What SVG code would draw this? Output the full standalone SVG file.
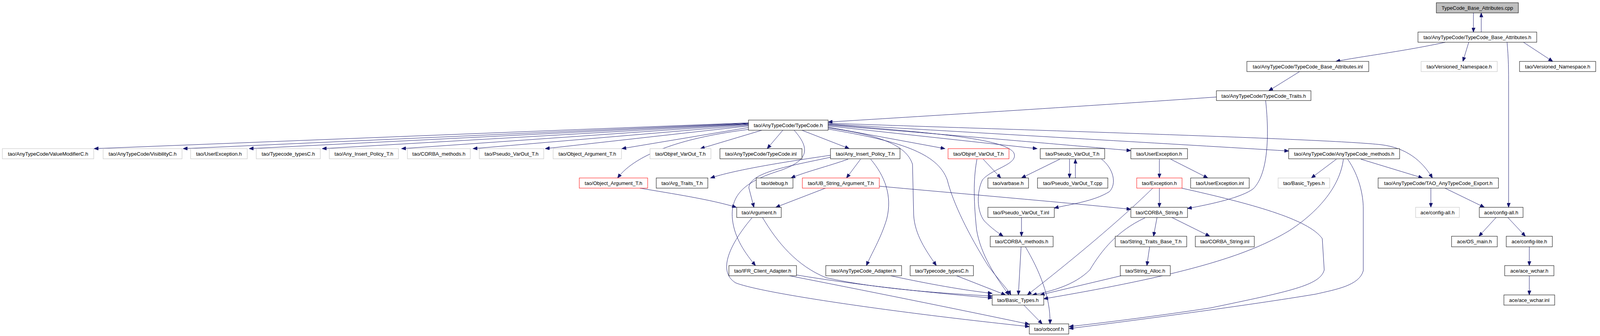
<svg xmlns="http://www.w3.org/2000/svg" width="4107" height="859" viewBox="0 0 4107 859">
<style>
.n rect{fill:#fff;stroke-width:1}
.b rect{stroke:#000}
.g rect{stroke:#bfbfbf}
.r rect{stroke:#ff0000}
.n text{font-family:"Liberation Sans",Arial,sans-serif;font-size:13px;text-anchor:middle;fill:#000}
#edges path{fill:none;stroke:#191970;stroke-width:1;marker-end:url(#ah)}
</style>
<defs>
<marker id="ah" markerUnits="userSpaceOnUse" markerWidth="12" markerHeight="9" refX="11" refY="4.5" orient="auto">
<path d="M0,0 L11,4.5 L0,9 z" fill="#191970" stroke="#191970" stroke-width="1"/>
</marker>
</defs>
<rect width="4107" height="859" fill="#fff"/>
<g id="edges">
<path d="M3772,33 L3772,82"/>
<path d="M3792,82 L3792,33"/>
<path d="M3700,108 C3600,130 3480,145 3420,157"/>
<path d="M3760,108 L3745,157"/>
<path d="M3900,108 L3975,157"/>
<path d="M3858,108 C3862,150 3862,180 3862,220 L3862,530"/>
<path d="M3327,183 L3248,232"/>
<path d="M3114,248 C2800,270 2400,295 2120,312"/>
<path d="M3240,257 C3248,330 3250,440 3209,482 C3180,505 3100,522 3040,533"/>
<path d="M1916,314 L241,380"/>
<path d="M1916,315 L469,380"/>
<path d="M1916,316 L638,380"/>
<path d="M1916,317 L825,380"/>
<path d="M1916,318 L1028,380"/>
<path d="M1916,320 L1211,380"/>
<path d="M1916,322 L1396,380"/>
<path d="M1916,326 L1592,380"/>
<path d="M1950,333 L1793,380"/>
<path d="M2004,333 L1964,380"/>
<path d="M1916,331 C1760,350 1630,390 1581,455"/>
<path d="M2053,333 L2174,380"/>
<path d="M2033,333 C2075,380 2070,410 2000,435 C1920,460 1868,490 1875,560 C1880,610 1910,650 1934,679"/>
<path d="M2120,322 L2655,380"/>
<path d="M2120,325 L2419,380"/>
<path d="M2120,327 C2250,345 2320,370 2336,420 L2339,550 C2342,600 2370,640 2397,679"/>
<path d="M2120,330 C2300,360 2400,390 2425,460 C2440,520 2480,600 2530,680 C2560,720 2580,740 2588,754"/>
<path d="M2120,318 C2400,340 2570,355 2595,390 C2610,420 2540,430 2515,460 C2500,490 2500,540 2520,565 C2540,585 2555,595 2568,604"/>
<path d="M2120,320 C2500,350 2800,377 2895,385"/>
<path d="M2120,317 C2600,345 3000,368 3299,386"/>
<path d="M2120,315 C2700,335 3400,355 3536,370 C3600,378 3640,410 3667,455"/>
<path d="M2126,397 C2000,415 1880,435 1819,455"/>
<path d="M2126,402 C2020,425 1920,440 1917,480 L1930,530"/>
<path d="M2171,407 C2120,425 2060,440 2025,455"/>
<path d="M2203,407 L2167,455"/>
<path d="M2229,407 C2265,450 2285,500 2270,560 C2255,610 2230,650 2218,679"/>
<path d="M1638,481 C1720,495 1820,510 1885,530"/>
<path d="M2113,481 L1986,530"/>
<path d="M2251,476 C2400,490 2700,515 2895,535"/>
<path d="M2517,407 L2562,455"/>
<path d="M2501,407 C2493,450 2491,500 2500,587 C2510,650 2550,710 2583,754"/>
<path d="M2713,407 L2615,455"/>
<path d="M2738,407 L2738,455"/>
<path d="M2753,455 L2753,407"/>
<path d="M2820,407 C2850,430 2860,470 2840,490 C2800,515 2740,522 2699,532"/>
<path d="M2615,556 L2615,604"/>
<path d="M2614,631 L2607,754"/>
<path d="M2625,631 C2660,690 2690,760 2688,828"/>
<path d="M2621,780 L2668,828"/>
<path d="M2968,407 L2968,455"/>
<path d="M2997,407 L3092,455"/>
<path d="M2968,481 L2968,530"/>
<path d="M2951,481 C2850,580 2700,700 2630,754"/>
<path d="M3025,481 C3200,520 3350,560 3385,610 L3390,690 C3380,730 3300,745 3100,787 C2950,810 2800,828 2737,835"/>
<path d="M2962,556 L2953,604"/>
<path d="M3000,556 L3097,604"/>
<path d="M2931,557 C2860,590 2820,640 2790,690 C2750,730 2690,745 2643,754"/>
<path d="M2943,631 L2936,679"/>
<path d="M2870,705 L2663,754"/>
<path d="M3421,407 L3357,455"/>
<path d="M3484,407 L3642,455"/>
<path d="M3439,407 C3430,480 3370,545 3300,590 C3200,650 3050,700 2672,764"/>
<path d="M3450,407 C3480,450 3490,500 3490,533 L3490,692 C3480,730 3420,740 3368,752 C3200,780 2900,820 2737,840"/>
<path d="M3663,481 L3663,530"/>
<path d="M3699,481 L3800,530"/>
<path d="M3830,556 L3786,604"/>
<path d="M3860,556 L3905,604"/>
<path d="M3915,630 L3915,679"/>
<path d="M3915,705 L3915,754"/>
<path d="M1952,556 C1990,620 2040,680 2115,710 C2250,740 2420,750 2540,757"/>
<path d="M1925,557 C1880,610 1830,690 1883,723 C1950,750 2300,800 2635,835"/>
<path d="M2039,703 C2200,730 2400,750 2540,762"/>
<path d="M2021,705 C2200,740 2450,790 2635,829"/>
<path d="M2280,705 C2350,720 2450,740 2540,750"/>
<path d="M2449,705 L2574,754"/>
</g>
<g id="n_cpp" class="n b"><rect x="3677" y="7" width="210" height="26" style="fill:#bfbfbf"/><text x="3782" y="25">TypeCode_Base_Attributes.cpp</text></g>
<g id="n_tcba_h" class="n b"><rect x="3630" y="82" width="304" height="26"/><text x="3782" y="100">tao/AnyTypeCode/TypeCode_Base_Attributes.h</text></g>
<g id="n_tcba_inl" class="n b"><rect x="3192" y="157" width="312" height="26"/><text x="3348" y="175">tao/AnyTypeCode/TypeCode_Base_Attributes.inl</text></g>
<g id="n_vns_g" class="n g"><rect x="3638" y="157" width="195" height="26"/><text x="3735.5" y="175">tao/Versioned_Namespace.h</text></g>
<g id="n_vns_b" class="n b"><rect x="3890" y="157" width="195" height="26"/><text x="3987.5" y="175">tao/Versioned_Namespace.h</text></g>
<g id="n_traits" class="n b"><rect x="3114" y="232" width="242" height="25"/><text x="3235" y="250">tao/AnyTypeCode/TypeCode_Traits.h</text></g>
<g id="n_typecode_h" class="n b"><rect x="1916" y="307" width="204" height="26"/><text x="2018" y="325">tao/AnyTypeCode/TypeCode.h</text></g>
<g id="n_vm" class="n g"><rect x="6" y="380" width="234" height="26"/><text x="123" y="398">tao/AnyTypeCode/ValueModifierC.h</text></g>
<g id="n_vis" class="n g"><rect x="264" y="380" width="202" height="26"/><text x="365" y="398">tao/AnyTypeCode/VisibilityC.h</text></g>
<g id="n_ue_g" class="n g"><rect x="488" y="380" width="145" height="26"/><text x="560.5" y="398">tao/UserException.h</text></g>
<g id="n_tct_g" class="n g"><rect x="656" y="380" width="164" height="26"/><text x="738" y="398">tao/Typecode_typesC.h</text></g>
<g id="n_aip_g" class="n g"><rect x="843" y="380" width="177" height="26"/><text x="931.5" y="398">tao/Any_Insert_Policy_T.h</text></g>
<g id="n_cm_g" class="n g"><rect x="1043" y="380" width="161" height="26"/><text x="1123.5" y="398">tao/CORBA_methods.h</text></g>
<g id="n_pvo_g" class="n g"><rect x="1227" y="380" width="165" height="26"/><text x="1309.5" y="398">tao/Pseudo_VarOut_T.h</text></g>
<g id="n_oa_g" class="n g"><rect x="1416" y="380" width="175" height="26"/><text x="1503.5" y="398">tao/Object_Argument_T.h</text></g>
<g id="n_ovo_g" class="n g"><rect x="1664" y="380" width="156" height="26"/><text x="1742" y="398">tao/Objref_VarOut_T.h</text></g>
<g id="n_tc_inl" class="n b"><rect x="1843" y="380" width="210" height="26"/><text x="1948" y="398">tao/AnyTypeCode/TypeCode.inl</text></g>
<g id="n_aip_b" class="n b"><rect x="2126" y="380" width="178" height="26"/><text x="2215" y="398">tao/Any_Insert_Policy_T.h</text></g>
<g id="n_ovo_r" class="n r"><rect x="2427" y="380" width="156" height="26"/><text x="2505" y="398">tao/Objref_VarOut_T.h</text></g>
<g id="n_pvo_b" class="n b"><rect x="2663" y="380" width="165" height="26"/><text x="2745.5" y="398">tao/Pseudo_VarOut_T.h</text></g>
<g id="n_ue_b" class="n b"><rect x="2895" y="380" width="145" height="26"/><text x="2967.5" y="398">tao/UserException.h</text></g>
<g id="n_methods" class="n b"><rect x="3299" y="380" width="284" height="26"/><text x="3441" y="398">tao/AnyTypeCode/AnyTypeCode_methods.h</text></g>
<g id="n_oa_r" class="n r"><rect x="1483" y="455" width="175" height="26"/><text x="1570.5" y="473">tao/Object_Argument_T.h</text></g>
<g id="n_argtraits" class="n b"><rect x="1680" y="455" width="132" height="26"/><text x="1746" y="473">tao/Arg_Traits_T.h</text></g>
<g id="n_debug" class="n b"><rect x="1936" y="455" width="94" height="26"/><text x="1983" y="473">tao/debug.h</text></g>
<g id="n_ubs_r" class="n r"><rect x="2054" y="455" width="197" height="26"/><text x="2152.5" y="473">tao/UB_String_Argument_T.h</text></g>
<g id="n_varbase" class="n b"><rect x="2529" y="455" width="104" height="26"/><text x="2581" y="473">tao/varbase.h</text></g>
<g id="n_pvo_cpp" class="n b"><rect x="2656" y="455" width="180" height="26"/><text x="2746" y="473">tao/Pseudo_VarOut_T.cpp</text></g>
<g id="n_exc_r" class="n r"><rect x="2910" y="455" width="116" height="26"/><text x="2968" y="473">tao/Exception.h</text></g>
<g id="n_ue_inl" class="n b"><rect x="3048" y="455" width="150" height="26"/><text x="3123" y="473">tao/UserException.inl</text></g>
<g id="n_bt_g" class="n g"><rect x="3272" y="455" width="132" height="26"/><text x="3338" y="473">tao/Basic_Types.h</text></g>
<g id="n_export" class="n b"><rect x="3528" y="455" width="308" height="26"/><text x="3682" y="473">tao/AnyTypeCode/TAO_AnyTypeCode_Export.h</text></g>
<g id="n_argument" class="n b"><rect x="1886" y="530" width="114" height="26"/><text x="1943" y="548">tao/Argument.h</text></g>
<g id="n_pvo_inl" class="n b"><rect x="2529" y="530" width="170" height="26"/><text x="2614" y="548">tao/Pseudo_VarOut_T.inl</text></g>
<g id="n_cs" class="n b"><rect x="2895" y="530" width="145" height="26"/><text x="2967.5" y="548">tao/CORBA_String.h</text></g>
<g id="n_ca_g" class="n g"><rect x="3624" y="530" width="112" height="26"/><text x="3680" y="548">ace/config-all.h</text></g>
<g id="n_ca_b" class="n b"><rect x="3787" y="530" width="112" height="26"/><text x="3843" y="548">ace/config-all.h</text></g>
<g id="n_cm_b" class="n b"><rect x="2535" y="604" width="161" height="27"/><text x="2615.5" y="622">tao/CORBA_methods.h</text></g>
<g id="n_stb" class="n b"><rect x="2855" y="604" width="183" height="27"/><text x="2946.5" y="622">tao/String_Traits_Base_T.h</text></g>
<g id="n_cs_inl" class="n b"><rect x="3060" y="604" width="151" height="27"/><text x="3135.5" y="622">tao/CORBA_String.inl</text></g>
<g id="n_osmain" class="n b"><rect x="3716" y="604" width="117" height="27"/><text x="3774.5" y="622">ace/OS_main.h</text></g>
<g id="n_cl" class="n b"><rect x="3856" y="604" width="118" height="27"/><text x="3915" y="622">ace/config-lite.h</text></g>
<g id="n_ifr" class="n b"><rect x="1866" y="679" width="173" height="26"/><text x="1952.5" y="697">tao/IFR_Client_Adapter.h</text></g>
<g id="n_atca" class="n b"><rect x="2114" y="679" width="194" height="26"/><text x="2211" y="697">tao/AnyTypeCode_Adapter.h</text></g>
<g id="n_tct_b" class="n b"><rect x="2330" y="679" width="162" height="26"/><text x="2411" y="697">tao/Typecode_typesC.h</text></g>
<g id="n_salloc" class="n b"><rect x="2868" y="679" width="128" height="26"/><text x="2932" y="697">tao/String_Alloc.h</text></g>
<g id="n_wchar_h" class="n b"><rect x="3852" y="679" width="126" height="26"/><text x="3915" y="697">ace/ace_wchar.h</text></g>
<g id="n_bt_b" class="n b"><rect x="2540" y="754" width="132" height="26"/><text x="2606" y="772">tao/Basic_Types.h</text></g>
<g id="n_wchar_inl" class="n b"><rect x="3850" y="754" width="130" height="26"/><text x="3915" y="772">ace/ace_wchar.inl</text></g>
<g id="n_orbconf" class="n b"><rect x="2635" y="828" width="101" height="26"/><text x="2685.5" y="846">tao/orbconf.h</text></g>
</svg>
